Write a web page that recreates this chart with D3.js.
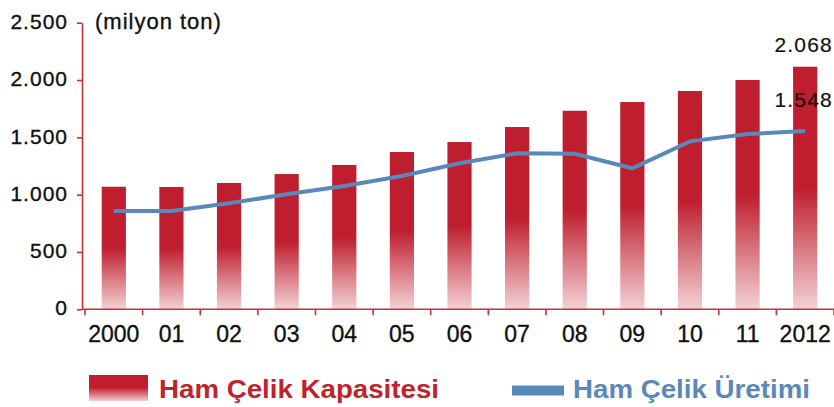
<!DOCTYPE html>
<html>
<head>
  <meta charset="UTF-8">
	<style>
		body { margin: 0; background: #fff; }
		svg { display: block; font-family: 'Liberation Sans', Arial, sans-serif; }
		.axis path, .axis line { stroke: #c8303a; stroke-width: 1.6px; }
		.axis text { fill: #111; font-size: 21px; letter-spacing: 1px; stroke: #111; stroke-width: 0.35px; }
		.x-label { fill: #111; font-size: 23px; text-anchor: middle; stroke: #111; stroke-width: 0.35px; }
		.unit { fill: #111; font-size: 22px; letter-spacing: 1px; stroke: #111; stroke-width: 0.35px; }
		.end-label { fill: #111; font-size: 21px; letter-spacing: 1.2px; text-anchor: end; stroke: #111; stroke-width: 0.2px; }
		.legend-text { font-size: 25px; font-weight: bold; }
	</style>
</head>
<body>
	<script src="https://d3js.org/d3.v7.min.js"></script>

	<svg id="chart" width="834" height="407"></svg>

	<script>
		// data (milyon ton)
		let years = ["2000", "01", "02", "03", "04", "05", "06", "07", "08", "09", "10", "11", "2012"];
		let capacity = [1069, 1067, 1102, 1180, 1259, 1372, 1459, 1590, 1732, 1808, 1904, 2000, 2116];
		let production = [857, 857, 925, 1003, 1076, 1163, 1274, 1361, 1357, 1230, 1465, 1529, 1555];
		let yTicks = [0, 500, 1000, 1500, 2000, 2500];
		let endLabels = ["2.068", "1.548"];
		let legendNames = ["Ham Çelik Kapasitesi", "Ham Çelik Üretimi"];

		let red = "#be1e2d",
			blue = "#5b88ba";

		let svg = d3.select("#chart");

		let x = d3.scaleBand()
			.domain(years)
			.range([85, 834])
			.paddingInner(0.58)
			.paddingOuter(0.29);

		let y = d3.scaleLinear()
			.domain([0, 2500])
			.range([309.3, 22.7]);

		let trFormat = d3.formatLocale({ decimal: ",", thousands: ".", grouping: [3], currency: ["", ""] }).format(",");

		// gradient for the bars: solid red on top half, fading to pink
		let defs = svg.append("defs");
		let grad = defs.append("linearGradient")
			.attr("id", "barGrad")
			.attr("x1", 0).attr("y1", 0)
			.attr("x2", 0).attr("y2", 1);
		grad.append("stop").attr("offset", "0%").attr("stop-color", red);
		grad.append("stop").attr("offset", "50%").attr("stop-color", red);
		grad.append("stop").attr("offset", "100%").attr("stop-color", "#f3d2d5");

		// bars
		svg.selectAll(".bar")
			.data(years)
			.enter()
			.append("rect")
				.attr("class", "bar")
				.attr("x", d => x(d))
				.attr("width", x.bandwidth())
				.attr("y", (d, i) => y(capacity[i]))
				.attr("height", (d, i) => y(0) - y(capacity[i]))
				.attr("fill", "url(#barGrad)");

		// y axis
		let yAxis = svg.append("g")
			.attr("class", "axis")
			.attr("transform", "translate(82,0)")
			.call(d3.axisLeft(y).tickValues(yTicks).tickSize(5).tickSizeOuter(0).tickFormat(trFormat));
		yAxis.selectAll("text")
			.attr("x", -14)
			.attr("dy", "0.27em");

		// x axis line + ticks at band edges
		let step = x.step();
		let xTicks = years.map(d => x(d) - x.paddingOuter() * step).concat([x.range()[1]]);
		let xAxis = svg.append("g").attr("class", "axis");
		xAxis.append("line")
			.attr("x1", 82).attr("x2", x.range()[1])
			.attr("y1", y(0)).attr("y2", y(0));
		xAxis.selectAll(".xtick")
			.data(xTicks)
			.enter()
			.append("line")
				.attr("x1", d => d).attr("x2", d => d)
				.attr("y1", y(0)).attr("y2", y(0) + 6);

		svg.selectAll(".x-label")
			.data(years)
			.enter()
			.append("text")
				.attr("class", "x-label")
				.attr("x", d => x(d) + x.bandwidth() / 2)
				.attr("y", 341.5)
				.text(d => d);

		// production line
		let line = d3.line()
			.x((d, i) => x(years[i]) + x.bandwidth() / 2)
			.y(d => y(d));
		svg.append("path")
			.datum(production)
			.attr("fill", "none")
			.attr("stroke", blue)
			.attr("stroke-width", 4)
			.attr("d", line);

		// unit and end labels
		svg.append("text")
			.attr("class", "unit")
			.attr("x", 95)
			.attr("y", 28.5)
			.text("(milyon ton)");

		svg.selectAll(".end-label")
			.data(endLabels)
			.enter()
			.append("text")
				.attr("class", "end-label")
				.attr("x", 833)
				.attr("y", (d, i) => [52.3, 107.3][i])
				.text(d => d);

		// legend
		let lgGrad = defs.append("linearGradient")
			.attr("id", "legGrad")
			.attr("x1", 0).attr("y1", 0)
			.attr("x2", 0).attr("y2", 1);
		lgGrad.append("stop").attr("offset", "0%").attr("stop-color", red);
		lgGrad.append("stop").attr("offset", "48%").attr("stop-color", red);
		lgGrad.append("stop").attr("offset", "100%").attr("stop-color", "#f2cdd0");

		svg.append("rect")
			.attr("x", 89).attr("y", 375)
			.attr("width", 59).attr("height", 26)
			.attr("fill", "url(#legGrad)");
		svg.append("text")
			.attr("class", "legend-text")
			.attr("x", 159).attr("y", 398.3)
			.attr("fill", "#c0232c")
			.attr("textLength", 280)
			.attr("lengthAdjust", "spacingAndGlyphs")
			.text(legendNames[0]);

		svg.append("rect")
			.attr("x", 512).attr("y", 385.5)
			.attr("width", 52).attr("height", 10)
			.attr("fill", blue);
		svg.append("text")
			.attr("class", "legend-text")
			.attr("x", 573).attr("y", 398.3)
			.attr("fill", blue)
			.attr("textLength", 237)
			.attr("lengthAdjust", "spacingAndGlyphs")
			.text(legendNames[1]);
	</script>
</body>
</html>
